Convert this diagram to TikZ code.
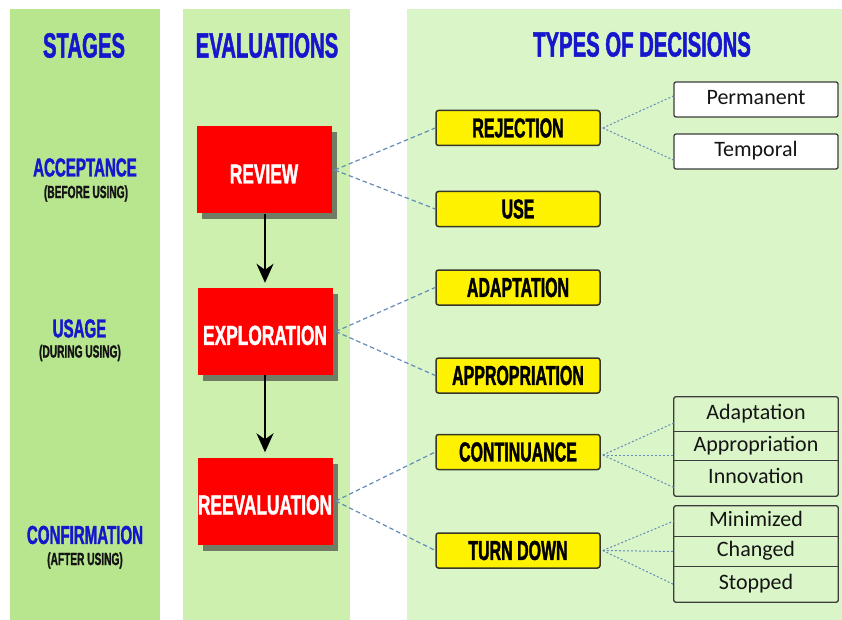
\documentclass[tikz,border=0pt]{standalone}
\usepackage{fontspec}
\setmainfont{Carlito}
\newfontfamily\condfont[FakeStretch=0.58,FakeBold=1.3]{Liberation Sans Bold}
\newfontfamily\boxfont[FakeStretch=0.63,FakeBold=1.3]{Liberation Sans Bold}
\usetikzlibrary{arrows.meta,shadows}

\definecolor{stagegreen}{RGB}{184,230,143}
\definecolor{evalgreen}{RGB}{205,240,174}
\definecolor{typegreen}{RGB}{218,245,200}
\definecolor{headblue}{RGB}{22,22,205}
\definecolor{boxred}{RGB}{255,0,0}
\definecolor{shadowgray}{RGB}{112,124,100}
\definecolor{linkblue}{RGB}{100,140,185}
\definecolor{edgedark}{RGB}{55,55,40}
\definecolor{optionedge}{RGB}{60,60,60}
\definecolor{darktext}{RGB}{20,20,20}

\tikzset{
  heading/.style={text=headblue, inner sep=0pt,
    font=\condfont\fontsize{35}{35}\selectfont},
  stagename/.style={text=headblue, inner sep=0pt,
    font=\condfont\fontsize{26}{26}\selectfont},
  stagenote/.style={text=darktext, inner sep=0pt,
    font=\condfont\fontsize{17.5}{17.5}\selectfont},
  evalbox/.style={fill=boxred, inner sep=0pt, minimum width=135pt,
    minimum height=87pt, text=white, text height=27pt,
    font=\boxfont\fontsize{27.5}{27.5}\selectfont,
    drop shadow={shadow xshift=5pt, shadow yshift=-6pt,
      fill=shadowgray, opacity=1}},
  decision/.style={fill=yellow, draw=edgedark, line width=1.5pt,
    rounded corners=2.5pt, inner sep=0pt, minimum width=164pt,
    minimum height=35pt, text=black,
    font=\condfont\fontsize{27.5}{27.5}\selectfont},
  option/.style={fill=white, draw=optionedge, line width=1.3pt,
    rounded corners=2pt, inner sep=0pt, minimum width=164pt,
    minimum height=35pt, text=darktext, text height=14.5pt, text depth=4.5pt,
    font=\fontsize{22}{22}\selectfont},
  cell/.style={inner sep=0pt, minimum width=164pt, text=darktext,
    text height=14.5pt, text depth=4.5pt,
    font=\fontsize{22}{22}\selectfont},
  groupframe/.style={draw=optionedge, line width=1.3pt, rounded corners=2pt},
  divider/.style={draw=optionedge, line width=1.3pt},
  link/.style={draw=linkblue, line width=1.2pt, dash pattern=on 4.5pt off 3pt},
  sublink/.style={draw=linkblue, line width=1pt, dash pattern=on 2pt off 2pt},
  flow/.style={draw=black, line width=2pt,
    -{Stealth[length=19pt, width=17pt, inset=6pt]}, shorten >=5pt},
}

\begin{document}
\begin{tikzpicture}[x=1pt, y=-1pt]
  \useasboundingbox (0,0) rectangle (842,620);
  \fill[white] (0,0) rectangle (842,620);

  % column backgrounds
  \fill[stagegreen] (10,9) rectangle (160,620);
  \fill[evalgreen] (183,9) rectangle (350,620);
  \fill[typegreen] (407,9) rectangle (842,620);

  % column headings
  \node[heading] (hstages) at (84,45.5) {STAGES};
  \node[heading] (hevals) at (267,45.5) {EVALUATIONS};
  \node[heading] (htypes) at (642,44.5) {TYPES OF DECISIONS};

  % stages
  \node[stagename] (acceptance) at (85,167.5) {ACCEPTANCE};
  \node[stagenote] (acceptnote) at (86,193.5) {(BEFORE USING)};
  \node[stagename] (usage) at (79.5,328.5) {USAGE};
  \node[stagenote] (usagenote) at (80,353) {(DURING USING)};
  \node[stagename] (confirmation) at (85,535) {CONFIRMATION};
  \node[stagenote] (confirmnote) at (85,560.5) {(AFTER USING)};

  % evaluations
  \node[evalbox] (review) at (264,170) {REVIEW};
  \node[evalbox] (exploration) at (265,331.5) {EXPLORATION};
  \node[evalbox] (reevaluation) at (265,501) {REEVALUATION};
  \draw[flow] (review.south -| exploration.north) -- (exploration.north);
  \draw[flow] (exploration.south) -- (reevaluation.north);

  % types of decisions
  \node[decision] (rejection) at (518,128) {REJECTION};
  \node[decision] (use) at (518,209) {USE};
  \node[decision] (adaptation) at (518,287.5) {ADAPTATION};
  \node[decision] (appropriation) at (518,375.5) {APPROPRIATION};
  \node[decision] (continuance) at (518,452) {CONTINUANCE};
  \node[decision] (turndown) at (518,550.5) {TURN DOWN};

  % outcomes of a rejection
  \node[option] (permanent) at (756,99.5) {Permanent};
  \node[option] (temporal) at (756,151.5) {Temporal};

  % outcomes of continuance
  \node[cell, minimum height=34pt] (cadapt) at (756,414) {Adaptation};
  \node[cell, minimum height=30pt] (cappro) at (756,446) {Appropriation};
  \node[cell, minimum height=35pt] (cinnov) at (756,478.5) {Innovation};
  \draw[groupframe] (cadapt.north west) rectangle (cinnov.south east);
  \draw[divider] (cadapt.south west) -- (cadapt.south east);
  \draw[divider] (cinnov.north west) -- (cinnov.north east);

  % outcomes of turning down
  \node[cell, minimum height=30pt] (tmin) at (756,521) {Minimized};
  \node[cell, minimum height=31pt] (tchg) at (756,551.5) {Changed};
  \node[cell, minimum height=35pt] (tstop) at (756,584.5) {Stopped};
  \draw[groupframe] (tmin.north west) rectangle (tstop.south east);
  \draw[divider] (tmin.south west) -- (tmin.south east);
  \draw[divider] (tstop.north west) -- (tstop.north east);

  % evaluation to decision links
  \draw[link] ([xshift=3pt]review.east) -- (rejection.west);
  \draw[link] ([xshift=3pt]review.east) -- (use.west);
  \draw[link] ([xshift=3pt]exploration.east) -- (adaptation.west);
  \draw[link] ([xshift=3pt]exploration.east) -- (appropriation.west);
  \draw[link] ([xshift=3pt]reevaluation.east) -- (continuance.west);
  \draw[link] ([xshift=3pt]reevaluation.east) -- (turndown.west);

  % decision to outcome links
  \draw[sublink] ([xshift=2pt]rejection.east) -- ([yshift=3.5pt]permanent.west);
  \draw[sublink] ([xshift=2pt]rejection.east) -- ([yshift=-8.5pt]temporal.west);
  \draw[sublink] ([xshift=2pt,yshift=-3pt]continuance.east) -- ([yshift=-9pt]cadapt.west);
  \draw[sublink] ([xshift=2pt,yshift=-3pt]continuance.east) -- ([yshift=-9pt]cappro.west);
  \draw[sublink] ([xshift=2pt,yshift=-3pt]continuance.east) -- ([yshift=-9pt]cinnov.west);
  \draw[sublink] ([xshift=2pt]turndown.east) -- (tmin.west);
  \draw[sublink] ([xshift=2pt]turndown.east) -- (tchg.west);
  \draw[sublink] ([xshift=2pt]turndown.east) -- (tstop.west);
\end{tikzpicture}
\end{document}
